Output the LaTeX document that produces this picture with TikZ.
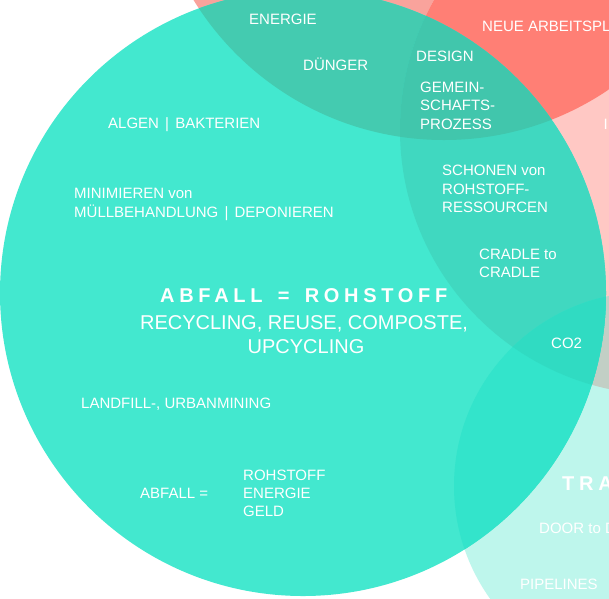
\documentclass[tikz,border=0pt]{standalone}
\usepackage{fontspec}
\setmainfont{Liberation Sans}
\definecolor{salmon}{HTML}{F9A39C}
\definecolor{redsat}{HTML}{FF7F75}
\definecolor{pinkl}{HTML}{FFC8C4}
\definecolor{cyanl}{HTML}{BEF6EC}
\definecolor{greyr}{HTML}{C2CFC5}
\definecolor{tealM}{HTML}{43E8CF}
\definecolor{tealMT}{HTML}{44CBB0}
\definecolor{tealMC}{HTML}{40D8C0}
\definecolor{tealMTC}{HTML}{41C6AC}
\definecolor{tealMV}{HTML}{33E4CB}
\definecolor{tealMCV}{HTML}{30DBC2}
\newcommand{\vbar}{\hspace{2pt}|\hspace{2pt}}
\tikzset{
  lbl/.style={text=white, inner sep=0pt, anchor=base west, font=\fontsize{15}{18}\selectfont},
  biglbl/.style={text=white, inner sep=0pt, anchor=base, font=\fontsize{20}{24}\selectfont},
  spaced/.style={text=white, inner sep=0pt, anchor=base west, font=\fontsize{20}{24}\selectfont\bfseries\addfontfeature{LetterSpace=23.5}}
}
\begin{document}
\begin{tikzpicture}[x=1pt,y=-1pt]
\useasboundingbox (0,0) rectangle (609,598);
\fill[white] (0,0) rectangle (609,598);
\coordinate (cT) at (444,-154);
\coordinate (cC) at (665,130);
\coordinate (cV) at (648,486);
\coordinate (cM) at (303,293);
% outer circles
\fill[salmon] (cT) circle[radius=294pt];
\fill[pinkl] (cC) circle[radius=265pt];
\begin{scope}
  \clip (cT) circle[radius=294pt];
  \fill[redsat] (cC) circle[radius=265pt];
\end{scope}
\fill[cyanl] (cV) circle[radius=194pt];
\begin{scope}
  \clip (cC) circle[radius=265pt];
  \fill[greyr] (cV) circle[radius=194pt];
\end{scope}
% main circle and its overlaps
\fill[tealM] (cM) circle[radius=303pt];
\begin{scope}
  \clip (cM) circle[radius=303pt];
  \fill[tealMT] (cT) circle[radius=294pt];
  \fill[tealMC] (cC) circle[radius=265pt];
  \begin{scope}
    \clip (cT) circle[radius=294pt];
    \fill[tealMTC] (cC) circle[radius=265pt];
  \end{scope}
  \fill[tealMV] (cV) circle[radius=194pt];
  \begin{scope}
    \clip (cC) circle[radius=265pt];
    \fill[tealMCV] (cV) circle[radius=194pt];
  \end{scope}
\end{scope}
% labels
\node[lbl] (energie) at (249,24) {ENERGIE};
\node[lbl] (duenger) at (303,70) {DÜNGER};
\node[lbl] (design) at (416,61.5) {DESIGN};
\node[lbl] (gem1) at (420,92.5) {GEMEIN-};
\node[lbl] (gem2) at (420,110.8) {SCHAFTS-};
\node[lbl] (gem3) at (420,129) {PROZESS};
\node[lbl] (neue) at (482,31.5) {NEUE ARBEITSPL};
\node[lbl] (icut) at (603.5,129.3) {I};
\node[lbl] (algen) at (108,128) {ALGEN \vbar{} BAKTERIEN};
\node[lbl] (mini1) at (74,198.3) {MINIMIEREN von};
\node[lbl] (mini2) at (74,217) {MÜLLBEHANDLUNG \vbar{} DEPONIEREN};
\node[lbl] (sch1) at (442,175) {SCHONEN von};
\node[lbl] (sch2) at (442,194) {ROHSTOFF-};
\node[lbl] (sch3) at (442,212.3) {RESSOURCEN};
\node[lbl] (cra1) at (479,259.3) {CRADLE to};
\node[lbl] (cra2) at (479,277) {CRADLE};
\node[lbl] (co2) at (551,348) {CO2};
\node[spaced] (abfroh) at (160,302) {ABFALL\hspace{5pt} =\hspace{5pt} ROHSTOFF};
\node[biglbl] (recy) at (304,329) {RECYCLING, REUSE, COMPOSTE,};
\node[biglbl] (upcy) at (306,353) {UPCYCLING};
\node[lbl] (land) at (81,408) {LANDFILL-, URBANMINING};
\node[lbl] (abfeq) at (140,498) {ABFALL =};
\node[lbl] (roh1) at (243,480) {ROHSTOFF};
\node[lbl] (roh2) at (243,498.3) {ENERGIE};
\node[lbl] (roh3) at (243,516) {GELD};
\node[spaced] (tra) at (562,490) {TRA};
\node[lbl] (door) at (539,533) {DOOR to D};
\node[lbl] (pipe) at (520,589) {PIPELINES};
\end{tikzpicture}
\end{document}
